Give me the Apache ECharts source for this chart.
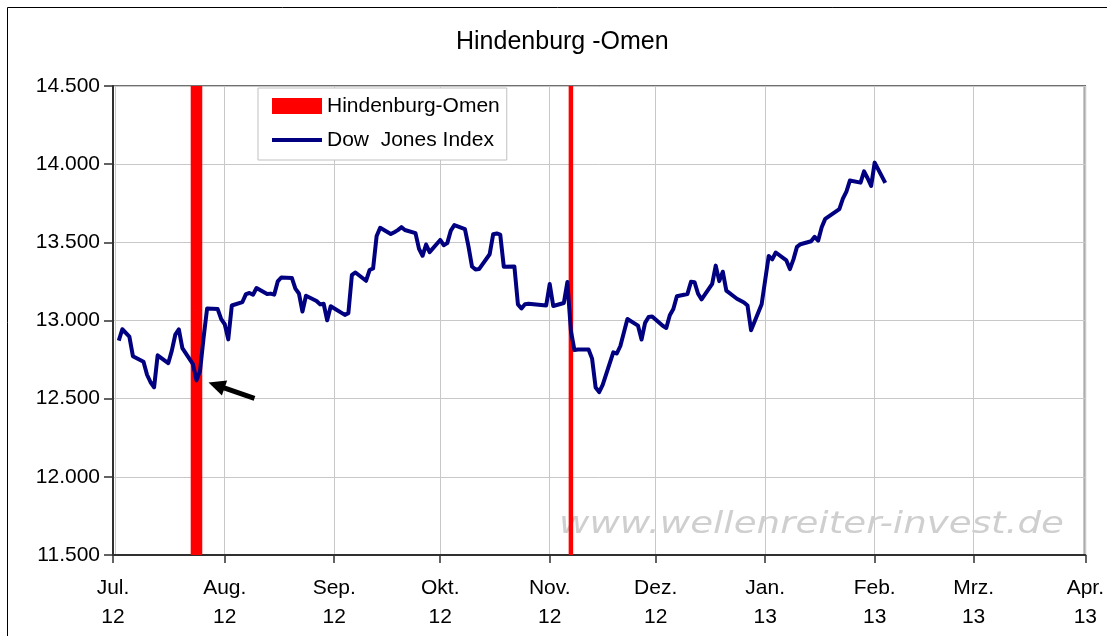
<!DOCTYPE html>
<html>
<head>
<meta charset="utf-8">
<title>Hindenburg -Omen</title>
<script src="https://cdn.jsdelivr.net/npm/echarts@6/dist/echarts.min.js"></script>
<style>
  html, body { margin: 0; padding: 0; background: #fff; }
  #chart { width: 1107px; height: 636px; }
</style>
</head>
<body>
<div id="chart"></div>
<script>
// Dow Jones Index, Tagesschlusskurse
var djDates = [
  '2012-07-02', '2012-07-03', '2012-07-05', '2012-07-06', '2012-07-09', '2012-07-10', '2012-07-11', '2012-07-12',
  '2012-07-13', '2012-07-16', '2012-07-17', '2012-07-18', '2012-07-19', '2012-07-20', '2012-07-23', '2012-07-24',
  '2012-07-25', '2012-07-26', '2012-07-27', '2012-07-30', '2012-07-31', '2012-08-01', '2012-08-02', '2012-08-03',
  '2012-08-06', '2012-08-07', '2012-08-08', '2012-08-09', '2012-08-10', '2012-08-13', '2012-08-14', '2012-08-15',
  '2012-08-16', '2012-08-17', '2012-08-20', '2012-08-21', '2012-08-22', '2012-08-23', '2012-08-24', '2012-08-27',
  '2012-08-28', '2012-08-29', '2012-08-30', '2012-08-31', '2012-09-04', '2012-09-05', '2012-09-06', '2012-09-07',
  '2012-09-10', '2012-09-11', '2012-09-12', '2012-09-13', '2012-09-14', '2012-09-17', '2012-09-18', '2012-09-19',
  '2012-09-20', '2012-09-21', '2012-09-24', '2012-09-25', '2012-09-26', '2012-09-27', '2012-09-28', '2012-10-01',
  '2012-10-02', '2012-10-03', '2012-10-04', '2012-10-05', '2012-10-08', '2012-10-09', '2012-10-10', '2012-10-11',
  '2012-10-12', '2012-10-15', '2012-10-16', '2012-10-17', '2012-10-18', '2012-10-19', '2012-10-22', '2012-10-23',
  '2012-10-24', '2012-10-25', '2012-10-26', '2012-10-31', '2012-11-01', '2012-11-02', '2012-11-05', '2012-11-06',
  '2012-11-07', '2012-11-08', '2012-11-09', '2012-11-12', '2012-11-13', '2012-11-14', '2012-11-15', '2012-11-16',
  '2012-11-19', '2012-11-20', '2012-11-21', '2012-11-23', '2012-11-26', '2012-11-27', '2012-11-28', '2012-11-29',
  '2012-11-30', '2012-12-03', '2012-12-04', '2012-12-05', '2012-12-06', '2012-12-07', '2012-12-10', '2012-12-11',
  '2012-12-12', '2012-12-13', '2012-12-14', '2012-12-17', '2012-12-18', '2012-12-19', '2012-12-20', '2012-12-21',
  '2012-12-24', '2012-12-26', '2012-12-27', '2012-12-28', '2012-12-31', '2013-01-02', '2013-01-03', '2013-01-04',
  '2013-01-07', '2013-01-08', '2013-01-09', '2013-01-10', '2013-01-11', '2013-01-14', '2013-01-15', '2013-01-16',
  '2013-01-17', '2013-01-18', '2013-01-22', '2013-01-23', '2013-01-24', '2013-01-25', '2013-01-28', '2013-01-29',
  '2013-01-30', '2013-01-31', '2013-02-01', '2013-02-04'
]
var djValues = [
  12871, 12944, 12897, 12772, 12736, 12653, 12605, 12573,
  12777, 12727, 12806, 12909, 12943, 12823, 12721, 12617,
  12676, 12888, 13076, 13073, 13009, 12976, 12879, 13096,
  13118, 13169, 13176, 13165, 13208, 13169, 13172, 13165,
  13250, 13275, 13272, 13204, 13173, 13057, 13158, 13125,
  13103, 13107, 13001, 13091, 13036, 13047, 13292, 13307,
  13254, 13323, 13333, 13540, 13593, 13553, 13565, 13578,
  13597, 13579, 13559, 13458, 13414, 13486, 13437, 13515,
  13482, 13495, 13575, 13610, 13584, 13474, 13345, 13326,
  13329, 13424, 13552, 13557, 13549, 13344, 13346, 13103,
  13077, 13104, 13107, 13096, 13233, 13093, 13112, 13246,
  12933, 12811, 12815, 12815, 12756, 12571, 12542, 12588,
  12796, 12789, 12837, 13010, 12967, 12878, 12985, 13022,
  13026, 12966, 12952, 13034, 13074, 13155, 13170, 13248,
  13245, 13171, 13135, 13235, 13351, 13252, 13312, 13191,
  13139, 13115, 13096, 12938, 13104, 13413, 13391, 13435,
  13384, 13329, 13391, 13471, 13488, 13507, 13535, 13511,
  13596, 13650, 13712, 13779, 13825, 13896, 13882, 13954,
  13910, 13861, 14010, 13880
]

// Hindenburg-Omen Signaltage (rote Balken bis zum oberen Rand)
var omenDates = ['2012-07-23', '2012-07-24', '2012-07-25', '2012-11-07']
var omenValues = [14500, 14500, 14500, 14500]

// Achsen
var monthNames = ['Jan.', 'Feb.', 'Mrz.', 'Apr.', 'Mai', 'Jun.', 'Jul.', 'Aug.', 'Sep.', 'Okt.', 'Nov.', 'Dez.']
var xStart = '2012-07-01'
var xEnd = '2013-04-01'
var yMin = 11500
var yMax = 14500
var yStep = 500

// Pfeil zeigt auf das Tief vom 24.07.
var arrowDate = '2012-07-24'
var arrowValue = 12617

function toTime(s) {
  var p = s.split('-')
  return new Date(+p[0], +p[1] - 1, +p[2]).getTime()
}

function fmtNumber(v) {
  // 14500 -> 14.500
  var s = String(Math.round(v))
  return s.replace(/\B(?=(\d{3})+(?!\d))/g, '.')
}

function fmtMonth(v) {
  // auf den naechsten Monatsanfang runden (Tick kann knapp davor liegen)
  var d = new Date(v)
  if (d.getDate() > 15) {
    d = new Date(d.getFullYear(), d.getMonth() + 1, 1)
  }
  return monthNames[d.getMonth()] + '\n' + String(d.getFullYear()).slice(2)
}

var chart = echarts.init(document.getElementById('chart'), null, { renderer: 'canvas' })

var font = '"Liberation Sans", Arial, sans-serif'

chart.setOption({
  animation: false,
  backgroundColor: '#fff',
  textStyle: { fontFamily: font },
  title: {
    text: 'Hindenburg -Omen',
    left: 451,
    top: 25,
    textStyle: { fontSize: 25, fontWeight: 'normal', color: '#000', fontFamily: font }
  },
  legend: {
    orient: 'vertical',
    left: 258,
    top: 88,
    padding: [7, 7, 9, 12],
    itemWidth: 50,
    itemHeight: 16,
    itemGap: 12,
    backgroundColor: '#fff',
    borderColor: '#c0c0c0',
    borderWidth: 1,
    borderRadius: 0,
    textStyle: { fontSize: 21, color: '#000', lineHeight: 22, fontFamily: font },
    data: [
      { name: 'Hindenburg-Omen', icon: 'rect' },
      // nur Linie, kein Punkt im Legendensymbol
      { name: 'Dow  Jones Index', itemStyle: { opacity: 0 }, lineStyle: { width: 4, color: '#000080' } }
    ]
  },
  grid: {
    left: 113,
    right: 19,
    top: 86,
    bottom: 81,
    show: true,
    borderColor: '#404040',
    borderWidth: 1.5,
    backgroundColor: 'transparent'
  },
  xAxis: {
    type: 'time',
    min: toTime(xStart),
    max: toTime(xEnd),
    splitNumber: 9,
    minInterval: 28 * 86400000,
    maxInterval: 31 * 86400000,
    axisLine: { show: true, lineStyle: { color: '#303030', width: 2 } },
    axisTick: { show: true, length: 8, lineStyle: { color: '#303030', width: 1.5 } },
    splitLine: { show: true, lineStyle: { color: '#c8c8c8', width: 1 } },
    axisLabel: {
      showMinLabel: true,
      showMaxLabel: true,
      hideOverlap: false,
      margin: 19,
      fontSize: 21,
      lineHeight: 29,
      color: '#000',
      fontFamily: font,
      formatter: fmtMonth
    }
  },
  yAxis: {
    type: 'value',
    min: yMin,
    max: yMax,
    interval: yStep,
    axisLine: { show: true, lineStyle: { color: '#303030', width: 2 } },
    axisTick: { show: true, length: 9, lineStyle: { color: '#303030', width: 1.5 } },
    splitLine: { show: true, lineStyle: { color: '#c8c8c8', width: 1 } },
    axisLabel: {
      margin: 13,
      fontSize: 21,
      color: '#000',
      fontFamily: font,
      formatter: fmtNumber
    }
  },
  series: [
    {
      name: 'Hindenburg-Omen',
      type: 'bar',
      barWidth: 4.5,
      itemStyle: { color: '#ff0000' },
      data: omenDates.map(function (d, i) { return [toTime(d), omenValues[i]] }),
      z: 2
    },
    {
      name: 'Dow  Jones Index',
      type: 'line',
      symbol: 'none',
      lineStyle: { color: '#000080', width: 4, join: 'round' },
      itemStyle: { color: '#000080' },
      data: djDates.map(function (d, i) { return [toTime(d), djValues[i]] }),
      z: 3
    }
  ]
})

// Pfeil und Wasserzeichen, am Datenpunkt ausgerichtet
var pt = chart.convertToPixel({ xAxisIndex: 0, yAxisIndex: 0 }, [toTime(arrowDate), arrowValue])
var tip = [pt[0] + 12, pt[1] + 2]
var tail = [pt[0] + 58, pt[1] + 18]
var dx = tip[0] - tail[0]
var dy = tip[1] - tail[1]
var len = Math.sqrt(dx * dx + dy * dy)
var ux = dx / len
var uy = dy / len
var headLen = 17
var headW = 8
var base = [tip[0] - ux * headLen, tip[1] - uy * headLen]

chart.setOption({
  graphic: [
    {
      type: 'rect',
      silent: true,
      shape: { x: 7.5, y: 7.5, width: 1120, height: 650 },
      style: { fill: 'none', stroke: '#000', lineWidth: 1 },
      z: 100
    },
    {
      type: 'text',
      silent: true,
      x: 559,
      y: 525,
      scaleX: 1.24,
      style: {
        text: 'www.wellenreiter-invest.de',
        font: 'italic 30px "DejaVu Sans", Verdana, sans-serif',
        fill: '#cfcfcf',
        textAlign: 'left',
        textVerticalAlign: 'middle'
      },
      z: 1
    },
    {
      type: 'line',
      silent: true,
      shape: { x1: tail[0], y1: tail[1], x2: base[0] + ux * 2, y2: base[1] + uy * 2 },
      style: { stroke: '#000', lineWidth: 5 },
      z: 50
    },
    {
      type: 'polygon',
      silent: true,
      shape: {
        points: [
          tip,
          [base[0] - uy * headW, base[1] + ux * headW],
          [base[0] + uy * headW, base[1] - ux * headW]
        ]
      },
      style: { fill: '#000' },
      z: 50
    }
  ]
})
</script>
</body>
</html>
